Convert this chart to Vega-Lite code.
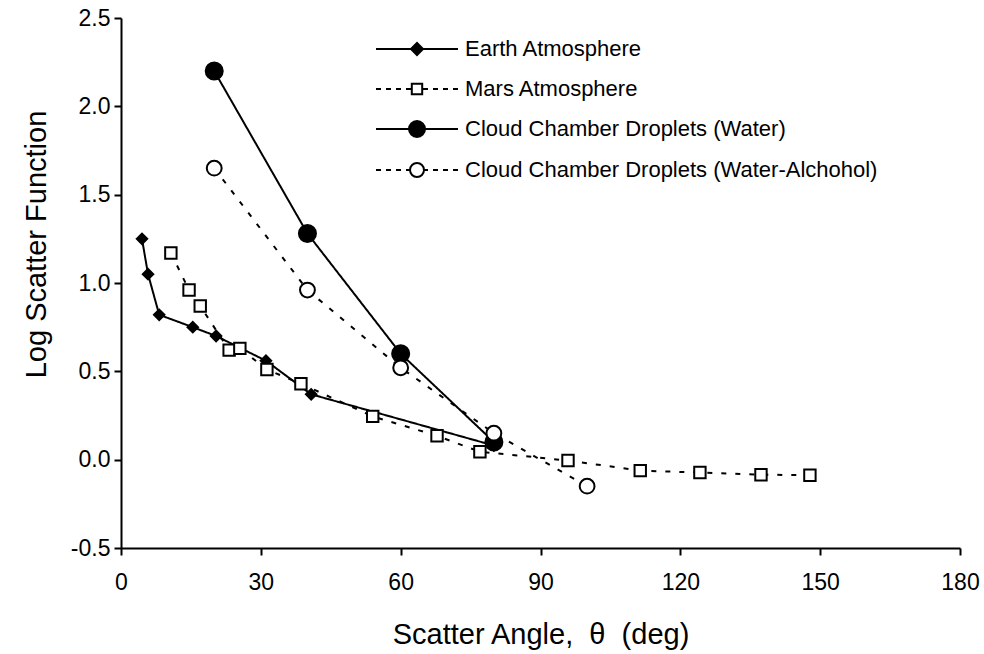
{
  "$schema": "https://vega.github.io/schema/vega-lite/v6.json",
  "width": 839,
  "height": 530,
  "autosize": "none",
  "padding": {"left": 121, "top": 18, "right": 24, "bottom": 106},
  "background": "white",
  "config": {
    "view": {"stroke": null},
    "font": "Liberation Sans",
    "axis": {
      "grid": false,
      "domainColor": "black",
      "domainWidth": 2,
      "tickColor": "black",
      "tickWidth": 2,
      "tickSize": 7,
      "labelFont": "Liberation Sans",
      "labelFontSize": 23,
      "labelColor": "black",
      "titleFont": "Liberation Sans",
      "titleFontSize": 29,
      "titleFontWeight": "normal",
      "titleColor": "black"
    }
  },
  "data": {
    "values": [
      {"series": "Earth Atmosphere", "angle": 4.5, "value": 1.25},
      {"series": "Earth Atmosphere", "angle": 5.8, "value": 1.05},
      {"series": "Earth Atmosphere", "angle": 8.2, "value": 0.82},
      {"series": "Earth Atmosphere", "angle": 15.4, "value": 0.75},
      {"series": "Earth Atmosphere", "angle": 20.4, "value": 0.70},
      {"series": "Earth Atmosphere", "angle": 31.1, "value": 0.56},
      {"series": "Earth Atmosphere", "angle": 40.8, "value": 0.37},
      {"series": "Earth Atmosphere", "angle": 80.0, "value": 0.08},
      {"series": "Mars Atmosphere", "angle": 10.7, "value": 1.17},
      {"series": "Mars Atmosphere", "angle": 14.6, "value": 0.96},
      {"series": "Mars Atmosphere", "angle": 17.0, "value": 0.87},
      {"series": "Mars Atmosphere", "angle": 23.2, "value": 0.62},
      {"series": "Mars Atmosphere", "angle": 25.5, "value": 0.63},
      {"series": "Mars Atmosphere", "angle": 31.3, "value": 0.51},
      {"series": "Mars Atmosphere", "angle": 38.6, "value": 0.43},
      {"series": "Mars Atmosphere", "angle": 54.0, "value": 0.245},
      {"series": "Mars Atmosphere", "angle": 67.8, "value": 0.135},
      {"series": "Mars Atmosphere", "angle": 77.0, "value": 0.045},
      {"series": "Mars Atmosphere", "angle": 95.9, "value": -0.005},
      {"series": "Mars Atmosphere", "angle": 111.4, "value": -0.062},
      {"series": "Mars Atmosphere", "angle": 124.2, "value": -0.073},
      {"series": "Mars Atmosphere", "angle": 137.3, "value": -0.085},
      {"series": "Mars Atmosphere", "angle": 147.8, "value": -0.088},
      {"series": "Cloud Chamber Droplets (Water)", "angle": 20, "value": 2.2},
      {"series": "Cloud Chamber Droplets (Water)", "angle": 40, "value": 1.28},
      {"series": "Cloud Chamber Droplets (Water)", "angle": 60, "value": 0.6},
      {"series": "Cloud Chamber Droplets (Water)", "angle": 80, "value": 0.1},
      {"series": "Cloud Chamber Droplets (Water-Alchohol)", "angle": 20, "value": 1.65},
      {"series": "Cloud Chamber Droplets (Water-Alchohol)", "angle": 40, "value": 0.96},
      {"series": "Cloud Chamber Droplets (Water-Alchohol)", "angle": 60, "value": 0.52},
      {"series": "Cloud Chamber Droplets (Water-Alchohol)", "angle": 80, "value": 0.15},
      {"series": "Cloud Chamber Droplets (Water-Alchohol)", "angle": 100, "value": -0.15}
    ]
  },
  "encoding": {
    "x": {
      "field": "angle", "type": "quantitative",
      "scale": {"domain": [0, 180], "nice": false, "zero": false},
      "axis": {"values": [0, 30, 60, 90, 120, 150, 180], "title": "Scatter Angle, \u00a0θ\u00a0 (deg)", "labelPadding": 16, "titlePadding": 26, "labelFlush": false}
    },
    "y": {
      "field": "value", "type": "quantitative",
      "scale": {"domain": [-0.5, 2.5], "nice": false, "zero": false},
      "axis": {"values": [-0.5, 0, 0.5, 1, 1.5, 2, 2.5], "labelExpr": "datum.value < 0 ? '-' + format(-datum.value, '.1f') : format(datum.value, '.1f')", "title": "Log Scatter Function", "labelPadding": 4, "titlePadding": 19, "titleY": 226}
    }
  },
  "layer": [
    {
      "mark": {"type": "line", "color": "black", "strokeWidth": 2},
      "encoding": {
        "detail": {"field": "series"},
        "strokeDash": {
          "field": "series", "type": "nominal",
          "scale": {"range": [[1, 0], [5, 9], [1, 0], [5, 9]]},
          "legend": null
        }
      }
    },
    {
      "mark": {"type": "point", "filled": true, "stroke": "black", "strokeWidth": 2, "opacity": 1},
      "encoding": {
        "shape": {
          "condition": [
            {"test": "datum.series === 'Earth Atmosphere'", "value": "diamond"},
            {"test": "datum.series === 'Mars Atmosphere'", "value": "square"}
          ],
          "value": "circle"
        },
        "fill": {
          "condition": {"test": "datum.series === 'Earth Atmosphere' || datum.series === 'Cloud Chamber Droplets (Water)'", "value": "black"},
          "value": "white"
        },
        "size": {
          "condition": [
            {"test": "datum.series === 'Cloud Chamber Droplets (Water)'", "value": 290},
            {"test": "datum.series === 'Cloud Chamber Droplets (Water-Alchohol)'", "value": 220},
            {"test": "datum.series === 'Mars Atmosphere'", "value": 130}
          ],
          "value": 110
        }
      }
    },
    {
      "transform": [{"filter": "false"}],
      "mark": {"type": "point", "filled": true, "strokeWidth": 2, "opacity": 1},
      "encoding": {
        "shape": {
          "field": "series", "type": "nominal",
          "scale": {
            "domain": ["Earth Atmosphere", "Mars Atmosphere", "Cloud Chamber Droplets (Water)", "Cloud Chamber Droplets (Water-Alchohol)"],
            "range": [
              "M-2.05,0H-0.3M0.3,0H2.05M-0.3,0L0,-0.3L0.3,0L0,0.3Z",
              "M-2.05,0H-1.8M-1.55,0H-1.3M-1.05,0H-0.8M-0.55,0H-0.28M0.28,0H0.55M0.8,0H1.05M1.3,0H1.55M1.8,0H2.05M-0.26,-0.26H0.26V0.26H-0.26Z",
              "M-2.05,0H-0.4M0.4,0H2.05M0.4,0C0.4,0.2209,0.2209,0.4,0,0.4C-0.2209,0.4,-0.4,0.2209,-0.4,0C-0.4,-0.2209,-0.2209,-0.4,0,-0.4C0.2209,-0.4,0.4,-0.2209,0.4,0Z",
              "M-2.05,0H-1.8M-1.55,0H-1.3M-1.05,0H-0.8M-0.55,0H-0.35M0.35,0H0.55M0.8,0H1.05M1.3,0H1.55M1.8,0H2.05M0.35,0C0.35,0.1933,0.1933,0.35,0,0.35C-0.1933,0.35,-0.35,0.1933,-0.35,0C-0.35,-0.1933,-0.1933,-0.35,0,-0.35C0.1933,-0.35,0.35,-0.1933,0.35,0Z"
            ]
          },
          "legend": {
            "title": null,
            "orient": "none",
            "legendX": 275,
            "legendY": 10,
            "padding": 0,
            "symbolSize": 1600,
            "symbolStrokeWidth": 2,
            "rowPadding": 8,
            "labelOffset": 27,
            "labelFont": "Liberation Sans",
            "labelFontSize": 22,
            "labelColor": "black",
            "labelLimit": 700
          }
        },
        "fill": {
          "field": "series", "type": "nominal",
          "scale": {
            "domain": ["Earth Atmosphere", "Mars Atmosphere", "Cloud Chamber Droplets (Water)", "Cloud Chamber Droplets (Water-Alchohol)"],
            "range": ["black", "white", "black", "white"]
          }
        },
        "stroke": {
          "field": "series", "type": "nominal",
          "scale": {
            "domain": ["Earth Atmosphere", "Mars Atmosphere", "Cloud Chamber Droplets (Water)", "Cloud Chamber Droplets (Water-Alchohol)"],
            "range": ["black", "black", "black", "black"]
          }
        }
      }
    }
  ]
}
